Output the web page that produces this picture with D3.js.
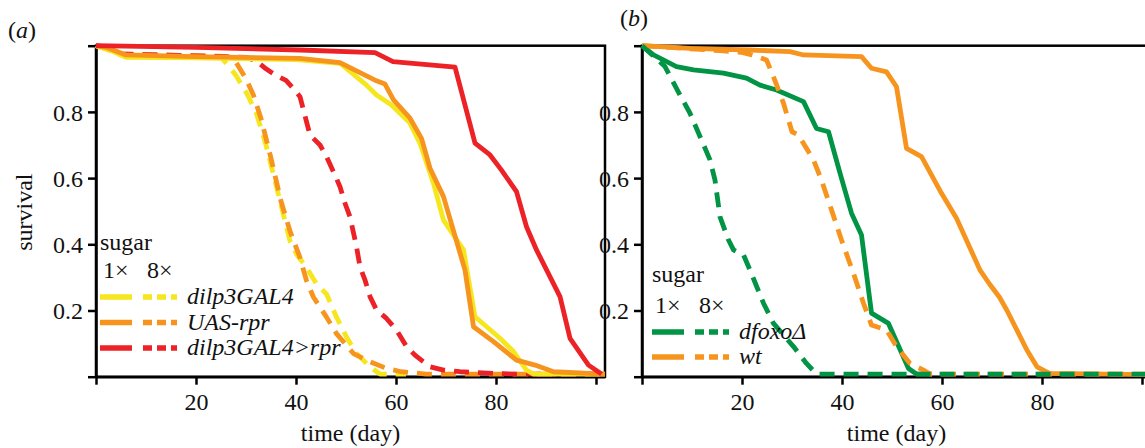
<!DOCTYPE html>
<html>
<head>
<meta charset="utf-8">
<script src="https://cdn.jsdelivr.net/npm/d3@7"></script>
<style>
  body { margin: 0; background: #fff; }
  svg { display: block; }
</style>
</head>
<body>
<script>
// survival curves, [day, proportion alive]
const dilp3GAL4_1x = [[0,1],[3,0.985],[6,0.965],[20,0.963],[40,0.958],[48.8,0.947],[54.1,0.881],[56.1,0.851],[59.1,0.821],[62.8,0.766],[64.8,0.705],[67.5,0.584],[69.5,0.473],[73.5,0.383],[75.8,0.181],[80.8,0.116],[83.5,0.076],[86.1,0.02],[87.5,0.008],[101.8,0.008]];
const uasRpr_1x = [[0,1],[2,0.995],[6,0.972],[20,0.967],[40.8,0.962],[48.8,0.949],[56.1,0.894],[57.8,0.884],[59.5,0.836],[62.8,0.781],[65.1,0.72],[66.8,0.63],[69.5,0.544],[73.8,0.322],[75.5,0.151],[79.5,0.106],[84.1,0.05],[87.8,0.035],[91.5,0.015],[101.8,0.008]];
const dilp3Rpr_1x = [[0,1],[20,0.995],[40.8,0.987],[55.8,0.979],[59.4,0.952],[71.8,0.935],[75.8,0.706],[78.8,0.67],[81.1,0.624],[84.1,0.559],[86.1,0.453],[88.1,0.383],[92.8,0.242],[94.8,0.116],[98.5,0.035],[101.1,0.008]];
const dilp3GAL4_8x = [[0,1],[2,0.99],[5,0.972],[25,0.965],[26.5,0.94],[28,0.91],[30,0.86],[32,0.8],[34,0.7],[36,0.58],[37.8,0.47],[38.8,0.41],[40.1,0.37],[42.1,0.33],[44.1,0.28],[46.1,0.25],[48.1,0.18],[50.1,0.12],[52.1,0.07],[54.8,0.03],[56.8,0.008],[62,0.008]];
const uasRpr_8x = [[0,1],[2,0.995],[5,0.975],[26,0.968],[28,0.95],[30,0.9],[31.5,0.85],[33,0.78],[35,0.66],[37,0.53],[38.8,0.44],[40.8,0.36],[42.1,0.29],[43.5,0.24],[46.1,0.18],[48.1,0.13],[51.5,0.07],[54.8,0.045],[58.1,0.025],[61,0.015],[66,0.008],[101.8,0.008]];
const dilp3Rpr_8x = [[0,1],[3,0.99],[5,0.975],[30,0.965],[32,0.955],[34,0.93],[36,0.91],[38,0.895],[39.5,0.87],[40.8,0.846],[42.8,0.73],[44.8,0.7],[46.1,0.665],[47.8,0.609],[48.8,0.574],[49.8,0.524],[50.8,0.483],[52.1,0.393],[52.8,0.332],[53.8,0.292],[54.8,0.242],[56.1,0.202],[58.1,0.176],[60.1,0.141],[62.1,0.091],[63.8,0.065],[66.8,0.03],[69.5,0.02],[72.8,0.015],[79.5,0.01],[84,0.008],[92,0.008]];

const dfoxo_1x = [[0,1],[2.3,0.972],[6.9,0.937],[10.3,0.927],[16.3,0.917],[20.9,0.902],[23.6,0.881],[26.9,0.866],[32.3,0.831],[34.9,0.75],[37.3,0.74],[39.6,0.615],[41.9,0.494],[43.9,0.428],[45.9,0.192],[49.3,0.161],[53.3,0.025],[54.9,0.008],[58,0.008]];
const wt_1x = [[0,1],[9.6,0.992],[21.6,0.987],[29.6,0.982],[32.3,0.972],[43.9,0.967],[45.9,0.932],[48.9,0.921],[50.9,0.876],[52.9,0.69],[55.9,0.665],[59.9,0.554],[62.9,0.479],[67.6,0.322],[69.5,0.28],[71.5,0.24],[73,0.2],[75,0.14],[77,0.08],[79,0.03],[81.5,0.01],[101,0.006]];
const dfoxo_8x = [[0,1],[4.6,0.937],[7.6,0.851],[9.6,0.796],[11.9,0.715],[13.6,0.655],[14.6,0.594],[15.6,0.483],[17.3,0.413],[18.3,0.383],[20.3,0.368],[21.6,0.322],[24.3,0.222],[26.3,0.161],[30.3,0.091],[32.9,0.04],[34.9,0.008],[101,0.008]];
const wt_8x = [[0,1],[15.6,0.985],[20,0.98],[22,0.972],[24.9,0.957],[26.3,0.906],[28.3,0.826],[30,0.74],[31.3,0.73],[34.3,0.655],[35.9,0.594],[37.9,0.504],[39.9,0.413],[42.3,0.312],[44.3,0.222],[45.9,0.156],[48.9,0.141],[50.9,0.091],[53.6,0.04],[56.3,0.02],[57.6,0.008],[101,0.008]];

const genotypesA = ["dilp3GAL4", "UAS-rpr", "dilp3GAL4>rpr"];
const genotypesB = ["dfoxoΔ", "wt"];
const sugarLevels = ["1×", "8×"];
const yTicks = [0, 0.2, 0.4, 0.6, 0.8, 1];
const xTicks = [0, 20, 40, 60, 80, 100];

const colors = { yellow: "#f6e61e", orange: "#f7941d", red: "#ec2227", green: "#009444" };
const FONT = "Liberation Serif, Times New Roman, Times, serif";

const W = 1145, H = 448;
const svg = d3.select("body").append("svg")
  .attr("width", W).attr("height", H)
  .attr("font-family", FONT);

const y = d3.scaleLinear().domain([0, 1]).range([376.7, 45.7]);

const panels = [
  { tag: "a", x0: 96, x1: 605, xmax: 101.8, labelX: 8, labelY: 38, ylabel: true,
    series: [
      { data: dilp3GAL4_8x, color: colors.yellow, dash: true },
      { data: uasRpr_8x, color: colors.orange, dash: true },
      { data: dilp3Rpr_8x, color: colors.red, dash: true },
      { data: dilp3GAL4_1x, color: colors.yellow },
      { data: uasRpr_1x, color: colors.orange },
      { data: dilp3Rpr_1x, color: colors.red }
    ],
    legend: { x: 100, top: 250, names: genotypesA, cols: [colors.yellow, colors.orange, colors.red], gap: 28, step: 25.5 } },
  { tag: "b", x0: 642, x1: 1147, xmax: 101, labelX: 620, labelY: 26, ylabel: false,
    series: [
      { data: wt_1x, color: colors.orange },
      { data: dfoxo_1x, color: colors.green },
      { data: wt_8x, color: colors.orange, dash: true },
      { data: dfoxo_8x, color: colors.green, dash: true }
    ],
    legend: { x: 652, top: 282, names: genotypesB, cols: [colors.green, colors.orange], gap: 31, step: 25 } }
];

function txt(sel) {
  return sel.attr("font-family", FONT).style("font-family", FONT)
    .attr("font-size", 24).attr("fill", "#111");
}

panels.forEach(p => {
  const x = d3.scaleLinear().domain([0, p.xmax]).range([p.x0, p.x1]);
  const g = svg.append("g");

  // frame
  g.append("rect")
    .attr("x", p.x0).attr("y", y(1))
    .attr("width", p.x1 - p.x0).attr("height", y(0) - y(1))
    .attr("fill", "none").attr("stroke", "#000").attr("stroke-width", 2.5);

  const yAxis = g.append("g").attr("transform", `translate(${p.x0},0)`)
    .call(d3.axisLeft(y).tickValues(yTicks).tickSize(8).tickSizeOuter(0)
      .tickFormat(d => (d > 0 && d < 1) ? d3.format(".1f")(d) : ""));
  const xAxis = g.append("g").attr("transform", `translate(0,${y(0)})`)
    .call(d3.axisBottom(x).tickValues(xTicks).tickSize(8).tickSizeOuter(0)
      .tickFormat(d => (d > 0 && d < 100) ? d : ""));
  [yAxis, xAxis].forEach(a => {
    a.attr("font-family", FONT).attr("font-size", 24);
    a.select(".domain").attr("stroke-width", 2.5);
    a.selectAll(".tick line").attr("stroke-width", 2.5);
    txt(a.selectAll(".tick text"));
  });
  yAxis.selectAll(".tick text").attr("x", -13).attr("dy", "0.34em");
  xAxis.selectAll(".tick text").attr("y", 16).attr("dy", "0.71em");

  txt(xAxis.append("text"))
    .attr("x", (p.x0 + p.x0 + 509) / 2)
    .attr("y", 64).attr("text-anchor", "middle")
    .text("time (day)");

  if (p.ylabel) {
    txt(svg.append("text"))
      .attr("transform", `translate(32,${(y(0) + y(1)) / 2 + 1}) rotate(-90)`)
      .attr("text-anchor", "middle")
      .text("survival");
  }

  const lbl = txt(svg.append("text")).attr("x", p.labelX).attr("y", p.labelY);
  lbl.append("tspan").text("(");
  lbl.append("tspan").attr("font-style", "italic").text(p.tag);
  lbl.append("tspan").text(")");

  const line = d3.line().x(d => x(d[0])).y(d => y(d[1]));
  g.selectAll("path.curve").data(p.series).enter().append("path")
    .attr("class", "curve")
    .attr("d", d => line(d.data))
    .attr("fill", "none")
    .attr("stroke", d => d.color)
    .attr("stroke-width", 4.8)
    .attr("stroke-linejoin", "round")
    .attr("stroke-dasharray", d => d.dash ? "15,9" : null);

  // legend
  const L = p.legend;
  txt(svg.append("text")).attr("x", L.x).attr("y", L.top).text("sugar");
  sugarLevels.forEach((s, i) => {
    txt(svg.append("text")).attr("x", L.x + 3 + i * 44).attr("y", L.top + L.gap).text(s);
  });
  L.names.forEach((n, i) => {
    const ly = L.top + L.gap + 19 + i * L.step;
    svg.append("line").attr("x1", L.x).attr("x2", L.x + 32).attr("y1", ly).attr("y2", ly)
      .attr("stroke", L.cols[i]).attr("stroke-width", 5.5);
    svg.append("line").attr("x1", L.x + 43).attr("x2", L.x + 77).attr("y1", ly).attr("y2", ly)
      .attr("stroke", L.cols[i]).attr("stroke-width", 5.5).attr("stroke-dasharray", "9,5");
    txt(svg.append("text")).attr("x", L.x + 87).attr("y", ly + 7)
      .attr("font-style", "italic").text(n);
  });
});
</script>
</body>
</html>
